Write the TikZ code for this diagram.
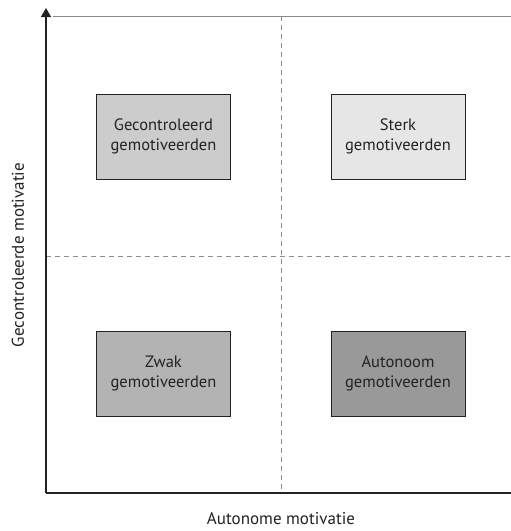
\documentclass[tikz,border=0pt]{standalone}
\usepackage{fontspec}
\setmainfont{PT Sans}
\usetikzlibrary{arrows.meta}
\definecolor{axisc}{HTML}{222222}
\definecolor{dashc}{HTML}{8C8C8C}
\definecolor{topc}{HTML}{8A8A8A}
\definecolor{ftl}{HTML}{CCCCCC}
\definecolor{ftr}{HTML}{E6E6E6}
\definecolor{fbl}{HTML}{B3B3B3}
\definecolor{fbr}{HTML}{999999}
\begin{document}
\begin{tikzpicture}[x=1pt,y=-1pt,
  quad/.style={draw=axisc,line width=1pt,minimum width=134pt,minimum height=85pt,
    align=center,text=axisc,font=\fontsize{16.5}{19.5}\selectfont,inner sep=0pt},
  guide/.style={dashc,line width=0.8pt,dash pattern=on 5pt off 4pt},
  axislbl/.style={text=axisc,font=\fontsize{17}{20}\selectfont}]
\useasboundingbox (0,0) rectangle (511,531);
\coordinate (O) at (46,493);
\coordinate (Ytop) at (46,8);
\coordinate (Xend) at (511,493);
\coordinate (Ttop) at (53,16);
\coordinate (Tend) at (511,16);
\coordinate (Vt) at (281,16);
\coordinate (Vb) at (281,493);
\coordinate (Hl) at (46,256);
\coordinate (Hr) at (511,256);
\draw[guide] (Vt) -- (Vb);
\draw[guide] (Hl) -- (Hr);
\draw[topc,line width=1pt] (Ttop) -- (Tend);
\draw[axisc,line width=1.4pt] (O) -- (Xend);
\draw[axisc,line width=1.4pt,-{Triangle[length=9pt,width=10pt]}] (O) -- (Ytop);
\node[quad,fill=ftl] (tl) at (163.5,136.5) {Gecontroleerd\\gemotiveerden};
\node[quad,fill=ftr] (tr) at (398,136.5) {Sterk\\gemotiveerden};
\node[quad,fill=fbl] (bl) at (163.5,373.5) {Zwak\\gemotiveerden};
\node[quad,fill=fbr] (br) at (398,373.5) {Autonoom\\gemotiveerden};
\node[axislbl] (xl) at (281,519) {Autonome motivatie};
\node[axislbl,rotate=90] (yl) at (18,255) {Gecontroleerde motivatie};
\end{tikzpicture}
\end{document}
